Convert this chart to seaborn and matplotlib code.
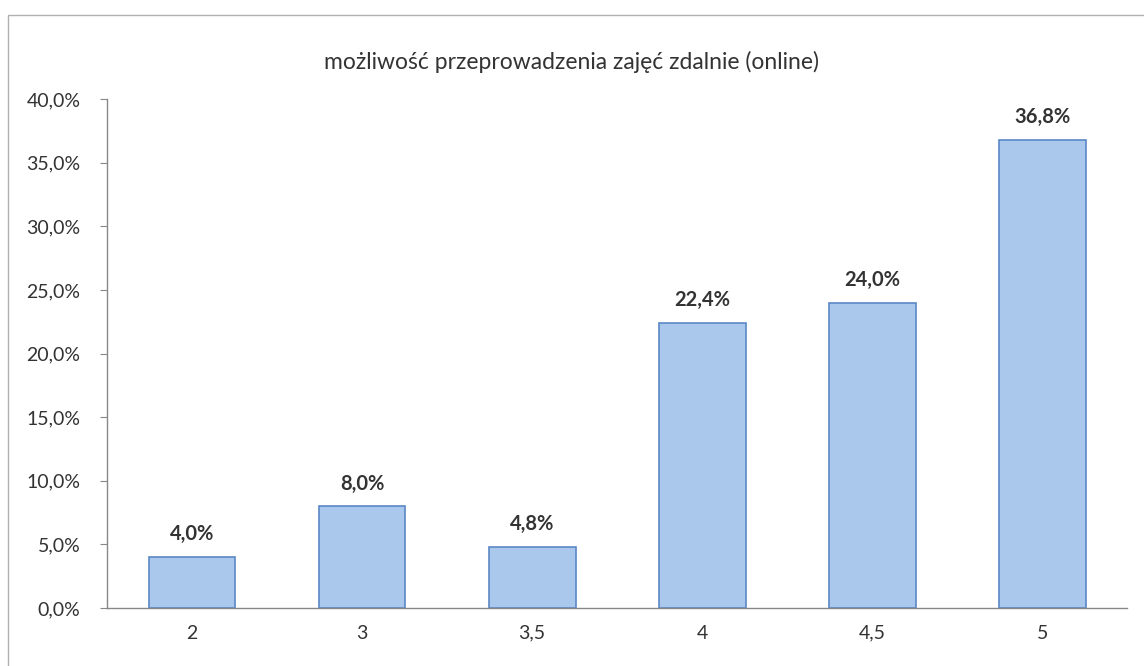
import numpy as np
import pandas as pd
import seaborn as sns
import matplotlib.pyplot as plt
from matplotlib.patches import Rectangle
from matplotlib.ticker import FuncFormatter

# data
grades = ['2', '3', '3,5', '4', '4,5', '5']
shares = [4.0, 8.0, 4.8, 22.4, 24.0, 36.8]
title = 'możliwość przeprowadzenia zajęć zdalnie (online)'

df = pd.DataFrame({'ocena': grades, 'udzial': shares})

sns.set_style('white')
plt.rcParams['font.family'] = ['Lato', 'DejaVu Sans']

fig = plt.figure(figsize=(11.44, 6.66), dpi=100)
ax = fig.add_axes([0.0935, 0.087, 0.892, 0.764])

sns.barplot(data=df, x='ocena', y='udzial', color='#a9c8ec', edgecolor='#5a88c6',
            linewidth=1.2, width=0.51, saturation=1, ax=ax)

# value labels
for i, v in enumerate(shares):
    ax.text(i, v + 1.0, f'{v:.1f}%'.replace('.', ','), ha='center', va='bottom',
            fontsize=14.5, fontweight='bold', color='#333333')

ax.set_ylim(0, 40)
ax.set_xlim(-0.5, 5.5)
ax.set_yticks(np.arange(0, 40.1, 5))
ax.yaxis.set_major_formatter(FuncFormatter(lambda y, _: f'{y:.1f}%'.replace('.', ',')))
ax.set_xlabel('')
ax.set_ylabel('')
ax.tick_params(axis='y', direction='out', length=5, width=0.8, color='#888888',
               labelsize=14, labelcolor='#333333', pad=14, left=True)
ax.tick_params(axis='x', length=0, labelsize=14, labelcolor='#333333', pad=12)

sns.despine(ax=ax, top=True, right=True)
for side in ['left', 'bottom']:
    ax.spines[side].set_color('#888888')
    ax.spines[side].set_linewidth(1.0)

fig.text(0.5, 0.907, title, ha='center', va='center', fontsize=16.5, color='#333333')

# chart frame
fig.patches.append(Rectangle((0.007, -0.01), 1.2, 0.988, transform=fig.transFigure,
                             fill=False, edgecolor='#b0b0b0', linewidth=1.0))

fig.savefig('out.png', dpi=100)
